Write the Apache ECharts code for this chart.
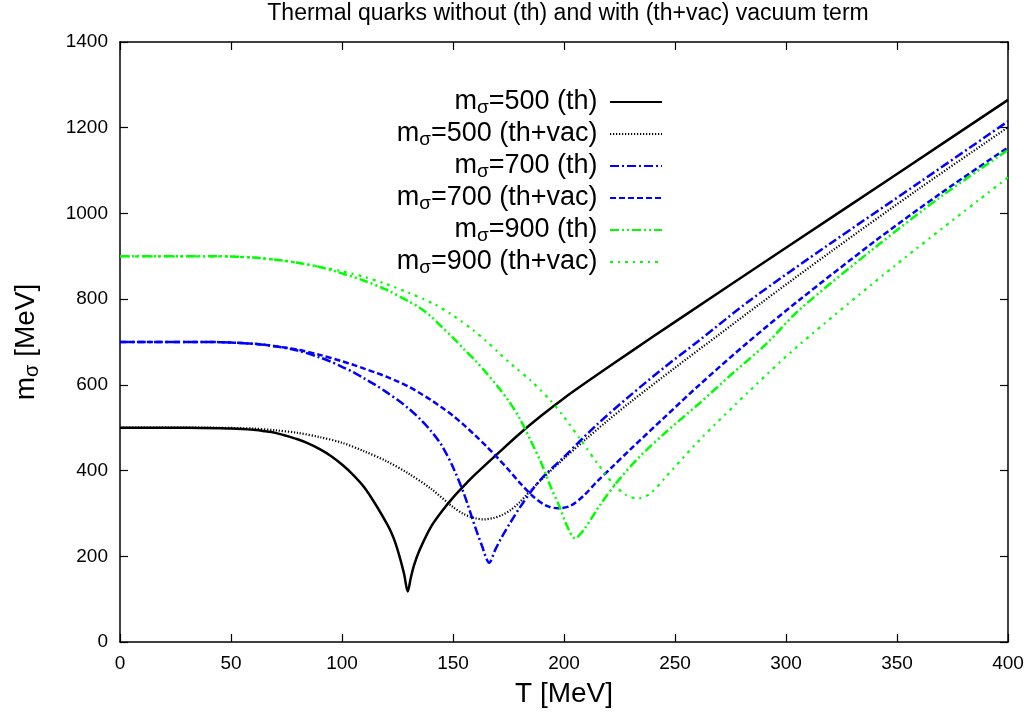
<!DOCTYPE html>
<html><head><meta charset="utf-8">
<script src="https://cdn.jsdelivr.net/npm/echarts@6/dist/echarts.min.js"></script>
<style>html,body{margin:0;padding:0;background:#fff}#c{width:1031px;height:715px}</style>
</head><body><div id="c"></div>
<script>
// Series names
const names = ['mσ=500 (th)', 'mσ=500 (th+vac)', 'mσ=700 (th)', 'mσ=700 (th+vac)', 'mσ=900 (th)', 'mσ=900 (th+vac)'];

// m_sigma = 500 (th)
const t500th = [0, 30, 50, 55, 60, 65, 70, 75, 80, 85, 90, 95, 100, 105, 110, 115, 120, 122, 124, 126, 128, 129.6, 131, 132.5, 135, 140, 145, 150, 155, 160, 170, 180, 190, 200, 212, 230, 250, 300, 350, 400];
const v500th = [500, 500, 498, 497, 495, 492, 488, 481, 473, 463, 450, 434, 414, 390, 361, 322, 278, 258, 232, 198, 158, 118, 150, 180, 215, 268, 305, 337, 365, 391, 439, 486, 529, 569, 613, 677, 747, 920, 1092, 1265];

// m_sigma = 500 (th+vac)
const t500tv = [0, 40, 60, 70, 80, 90, 100, 110, 120, 130, 140, 150, 155, 160, 163.6, 168, 172, 176, 180, 184, 190, 200, 210, 220, 230, 250, 270, 288, 320, 360, 400];
const v500tv = [500, 500, 498, 494, 488, 478, 465, 445, 422, 393, 358, 315, 298, 289, 286, 289, 296, 308, 326, 348, 380, 428, 474, 518, 560, 640, 718, 788, 910, 1058, 1201];

// m_sigma = 700 (th)
const t700th = [0, 40, 60, 70, 80, 90, 95, 100, 105, 110, 115, 120, 125, 130, 135, 140, 145, 150, 155, 160, 163, 166.3, 169, 172, 176, 180, 185, 190, 200, 215, 230, 245, 260, 284, 320, 360, 400];
const v700th = [700, 700, 696, 690, 680, 664, 654, 642, 630, 615, 600, 583, 565, 545, 521, 493, 458, 408, 345, 268, 225, 185, 215, 245, 280, 313, 350, 382, 432, 508, 576, 640, 700, 798, 930, 1072, 1215];

// m_sigma = 700 (th+vac)
const t700tv = [0, 40, 60, 70, 80, 90, 100, 105, 110, 115, 120, 125, 130, 135, 140, 145, 150, 155, 160, 165, 170, 175, 180, 186, 192, 197.4, 203, 209, 215, 222, 230, 245, 261, 283, 306, 340, 370, 400];
const v700tv = [700, 700, 696, 690, 682, 670, 655, 647, 638, 629, 619, 608, 596, 581, 565, 547, 528, 506, 482, 457, 430, 402, 372, 340, 318, 312, 318, 342, 375, 410, 450, 523, 600, 700, 798, 935, 1048, 1154];

// m_sigma = 900 (th)
const t900th = [0, 45, 60, 70, 80, 90, 100, 110, 120, 130, 135, 140, 145, 150, 155, 160, 165, 170, 175, 180, 185, 190, 194, 198, 201, 205, 209, 216, 224, 234, 246, 261, 276, 291, 306, 340, 370, 400];
const v900th = [900, 900, 897, 892, 885, 875, 860, 843, 822, 795, 780, 760, 735, 710, 683, 657, 628, 597, 563, 522, 470, 415, 362, 316, 275, 242, 262, 318, 374, 432, 490, 557, 627, 695, 775, 920, 1040, 1148];

// m_sigma = 900 (th+vac)
const t900tv = [0, 45, 60, 70, 80, 90, 100, 110, 120, 130, 141, 150, 159, 165, 171, 177, 185, 194, 200, 208, 216, 222, 228, 233.5, 239, 246, 261, 284, 305, 350, 400];
const v900tv = [900, 900, 897, 892, 885, 875, 865, 852, 835, 815, 790, 762, 728, 702, 673, 645, 610, 563, 525, 468, 410, 370, 343, 335, 347, 386, 471, 588, 689, 882, 1084];

// Axis ticks
const xTicks = [0, 50, 100, 150, 200, 250, 300, 350, 400];
const yTicks = [0, 200, 400, 600, 800, 1000, 1200, 1400];

const temps = [t500th, t500tv, t700th, t700tv, t900th, t900tv];
const vals = [v500th, v500tv, v700th, v700tv, v900th, v900tv];
const colors = ['#000000', '#000000', '#0000ff', '#0000ff', '#00ff00', '#00ff00'];
const dashes = ['solid', [1.2, 1.8], [9, 3, 2, 3], [6, 3], [9, 3, 2, 3, 2, 3], [3, 5, 2, 5]];
const widths = [2.5, 2.2, 2.5, 2.5, 2.5, 2.2];

const FF = 'Liberation Sans, Arial, sans-serif';

const series = names.map((n, i) => ({
  name: n,
  type: 'line',
  symbol: 'none',
  smooth: 0.3,
  xAxisIndex: 0,
  yAxisIndex: 0,
  lineStyle: { color: colors[i], width: widths[i], type: dashes[i] },
  itemStyle: { color: colors[i] },
  data: temps[i].map((t, j) => [t, vals[i][j]])
}));

const xCommon = {
  type: 'value', min: 0, max: 400, interval: 50,
  axisLine: { show: true, onZero: false, lineStyle: { color: '#000', width: 1.5 } },
  axisTick: { show: true, inside: true, length: 8, lineStyle: { color: '#000', width: 1.2 } },
  splitLine: { show: false }
};
const yCommon = {
  type: 'value', min: 0, max: 1400, interval: 200,
  axisLine: { show: true, onZero: false, lineStyle: { color: '#000', width: 1.5 } },
  axisTick: { show: true, inside: true, length: 8, lineStyle: { color: '#000', width: 1.2 } },
  splitLine: { show: false }
};

const chart = echarts.init(document.getElementById('c'), null, { renderer: 'canvas' });
chart.setOption({
  animation: false,
  backgroundColor: '#fff',
  title: {
    text: 'Thermal quarks without (th) and with (th+vac) vacuum term',
    left: 568, top: 2, padding: 0, textAlign: 'center',
    textStyle: { fontFamily: FF, fontSize: 23, fontWeight: 'normal', color: '#000' }
  },
  grid: { left: 120, right: 23, top: 42, bottom: 73, containLabel: false },
  legend: {
    orient: 'vertical', align: 'right', right: 368, top: 87, padding: 0,
    itemWidth: 52, itemHeight: 14, itemGap: 2, selectedMode: false,
    itemStyle: { opacity: 0, color: 'rgba(0,0,0,0)', borderWidth: 0 },
    formatter: n => n.replace('σ', '{s|σ}') + '\u00a0',
    textStyle: {
      fontFamily: FF, fontSize: 27, color: '#000', lineHeight: 30,
      rich: { s: { fontFamily: FF, fontSize: 19, color: '#000', lineHeight: 14, verticalAlign: 'bottom' } }
    },
    data: names
  },
  xAxis: [
    Object.assign({}, xCommon, {
      position: 'bottom', name: 'T [MeV]', nameLocation: 'middle', nameGap: 38,
      nameTextStyle: { fontFamily: FF, fontSize: 28, color: '#000' },
      axisLabel: { show: true, margin: 12, fontFamily: FF, fontSize: 19, color: '#000',
        formatter: v => xTicks.includes(v) ? String(v) : '' }
    }),
    Object.assign({}, xCommon, { position: 'top', axisLabel: { show: false } })
  ],
  yAxis: [
    Object.assign({}, yCommon, {
      position: 'left', name: 'm{s|σ} [MeV]', nameLocation: 'middle', nameGap: 78, nameRotate: 90,
      nameTextStyle: { fontFamily: FF, fontSize: 28, color: '#000', lineHeight: 32,
        rich: { s: { fontFamily: FF, fontSize: 20, color: '#000', lineHeight: 14, verticalAlign: 'bottom' } } },
      axisLabel: { show: true, margin: 12, fontFamily: FF, fontSize: 19, color: '#000',
        formatter: v => yTicks.includes(v) ? String(v) : '' }
    }),
    Object.assign({}, yCommon, { position: 'right', axisLabel: { show: false } })
  ],
  series: series
});
</script>
</body></html>
